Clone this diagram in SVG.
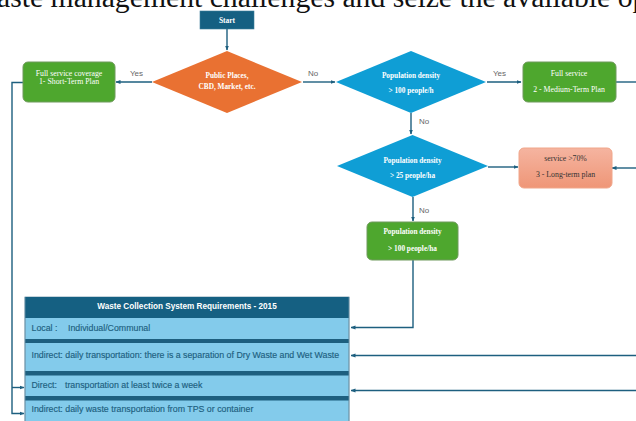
<svg xmlns="http://www.w3.org/2000/svg" width="636" height="421" viewBox="0 0 636 421">
<defs>
<marker id="arr" viewBox="0 0 10 10" refX="9" refY="5" markerWidth="5" markerHeight="5" orient="auto" markerUnits="userSpaceOnUse">
<path d="M0,1 L10,5 L0,9 z" fill="#1d5f7f"/>
</marker>
<linearGradient id="salmon" x1="0" y1="0" x2="0" y2="1">
<stop offset="0" stop-color="#f5b4a0"/>
<stop offset="1" stop-color="#ef9677"/>
</linearGradient>
<style>
.title{font-family:"Liberation Serif",serif;font-size:29.7px;fill:#111}
.conn{fill:none;stroke:#1d5f7f;stroke-width:1.4}
.lbl{font-family:"Liberation Sans",sans-serif;font-size:8px;fill:#666}
.wt{font-family:"Liberation Serif",serif;font-size:7.8px;fill:#fff;text-anchor:middle}
.wb{font-family:"Liberation Serif",serif;font-size:7.3px;font-weight:bold;fill:#fff;text-anchor:middle}
.dt{font-family:"Liberation Serif",serif;font-size:7.8px;fill:#333;text-anchor:middle}
.green{fill:#4ea72e;stroke:#6f9a5c;stroke-width:1}
.row{fill:#83cbeb}
.sep{fill:#1d5f7f}
.rt{font-family:"Liberation Sans",sans-serif;font-size:8.8px;fill:#1d5f7f;stroke:#1d5f7f;stroke-width:0.15}
.ht{font-family:"Liberation Sans",sans-serif;font-size:8.2px;font-weight:bold;fill:#fff;text-anchor:middle}
</style>
</defs>

<text class="title" x="-3" y="7">aste management challenges and seize the available op</text>

<g id="connectors">
<line class="conn" x1="227" y1="29" x2="227" y2="50" marker-end="url(#arr)"/>
<line class="conn" x1="152" y1="82" x2="116" y2="82" marker-end="url(#arr)"/>
<line class="conn" x1="303" y1="82" x2="335" y2="82" marker-end="url(#arr)"/>
<line class="conn" x1="487" y1="82" x2="521" y2="82" marker-end="url(#arr)"/>
<line class="conn" x1="616" y1="82" x2="636" y2="82"/>
<line class="conn" x1="411" y1="113" x2="411" y2="134" marker-end="url(#arr)"/>
<line class="conn" x1="488" y1="167" x2="518" y2="167" marker-end="url(#arr)"/>
<line class="conn" x1="636" y1="168" x2="612" y2="168" marker-end="url(#arr)"/>
<line class="conn" x1="413" y1="197" x2="413" y2="221" marker-end="url(#arr)"/>
<polyline class="conn" points="413,260 413,327.5 351,327.5" marker-end="url(#arr)"/>
<line class="conn" x1="636" y1="355.5" x2="351" y2="355.5" marker-end="url(#arr)"/>
<line class="conn" x1="636" y1="390.5" x2="351" y2="390.5" marker-end="url(#arr)"/>
<polyline class="conn" points="23,82.5 12,82.5 12,413.5 24,413.5" marker-end="url(#arr)"/>
<line class="conn" x1="12" y1="387.5" x2="24" y2="387.5" marker-end="url(#arr)"/>
<text class="lbl" x="130" y="76">Yes</text>
<text class="lbl" x="308" y="76">No</text>
<text class="lbl" x="493" y="76">Yes</text>
<text class="lbl" x="419" y="124">No</text>
<text class="lbl" x="419" y="213">No</text>
</g>

<g id="start">
<rect x="200" y="11" width="54" height="18" fill="#156082" stroke="#3f7f9c" stroke-width="0.6"/>
<text x="227" y="22.5" font-family="Liberation Serif, serif" font-size="7.5" font-weight="bold" fill="#fff" text-anchor="middle">Start</text>
</g>

<g id="public-places">
<polygon points="227,51 302,82 227,113 152,82" fill="#e97132"/>
<text class="wb" x="227" y="78">Public Places,</text>
<text class="wb" x="227" y="89">CBD, Market, etc.</text>
</g>

<g id="short-term">
<rect class="green" x="23" y="62" width="92" height="40" rx="5"/>
<text class="wt" x="69" y="75.5">Full service coverage</text>
<text class="wt" x="69" y="84">1- Short-Term Plan</text>
</g>

<g id="density-100">
<polygon points="411,51 486,82 411,113 336,82" fill="#0f9ed5"/>
<text class="wb" x="411" y="77.5">Population density</text>
<text class="wb" x="411" y="93">&gt; 100 people/h</text>
</g>

<g id="medium-term">
<rect class="green" x="523" y="62" width="93" height="40" rx="5"/>
<text class="wt" x="569" y="75.5">Full service</text>
<text class="wt" x="569" y="91.5">2 - Medium-Term Plan</text>
</g>

<g id="density-25">
<polygon points="412.5,135 488,166 412.5,197 337,166" fill="#0f9ed5"/>
<text class="wb" x="412.5" y="162.5">Population density</text>
<text class="wb" x="412.5" y="177.5">&gt; 25 people/ha</text>
</g>

<g id="long-term">
<rect x="519" y="148" width="93" height="40" rx="5" fill="url(#salmon)" stroke="#f0a68a" stroke-width="1"/>
<text class="dt" x="565.5" y="160.5">service &gt;70%</text>
<text class="dt" x="565.5" y="176.5">3 - Long-term plan</text>
</g>

<g id="density-100ha">
<rect class="green" x="367" y="222" width="91" height="38" rx="5"/>
<text class="wb" x="412.5" y="234">Population density</text>
<text class="wb" x="412.5" y="250.5">&gt; 100 people/ha</text>
</g>

<g id="requirements">
<rect x="25" y="297" width="324" height="126" fill="#83cbeb" stroke="#6f95a8" stroke-width="0.8"/>
<rect x="25" y="297" width="324" height="21" fill="#156082"/>
<rect class="sep" x="25" y="339" width="324" height="4"/>
<rect class="sep" x="25" y="371" width="324" height="4.5"/>
<rect class="sep" x="25" y="396" width="324" height="4.5"/>
<line x1="25" y1="297" x2="25" y2="421" stroke="#6f95a8" stroke-width="0.8"/>
<line x1="349" y1="297" x2="349" y2="421" stroke="#6f95a8" stroke-width="0.8"/>
<text class="ht" x="187" y="309">Waste Collection System Requirements - 2015</text>
<text class="rt" x="31.5" y="330.5">Local :</text>
<text class="rt" x="68" y="330.5">Individual/Communal</text>
<text class="rt" x="31.5" y="357.5">Indirect: daily transportation: there is a separation of Dry Waste and Wet Waste</text>
<text class="rt" x="31.5" y="387.5">Direct:</text>
<text class="rt" x="65" y="387.5">transportation at least twice a week</text>
<text class="rt" x="31.5" y="411.5">Indirect: daily waste transportation from TPS or container</text>
</g>
</svg>
